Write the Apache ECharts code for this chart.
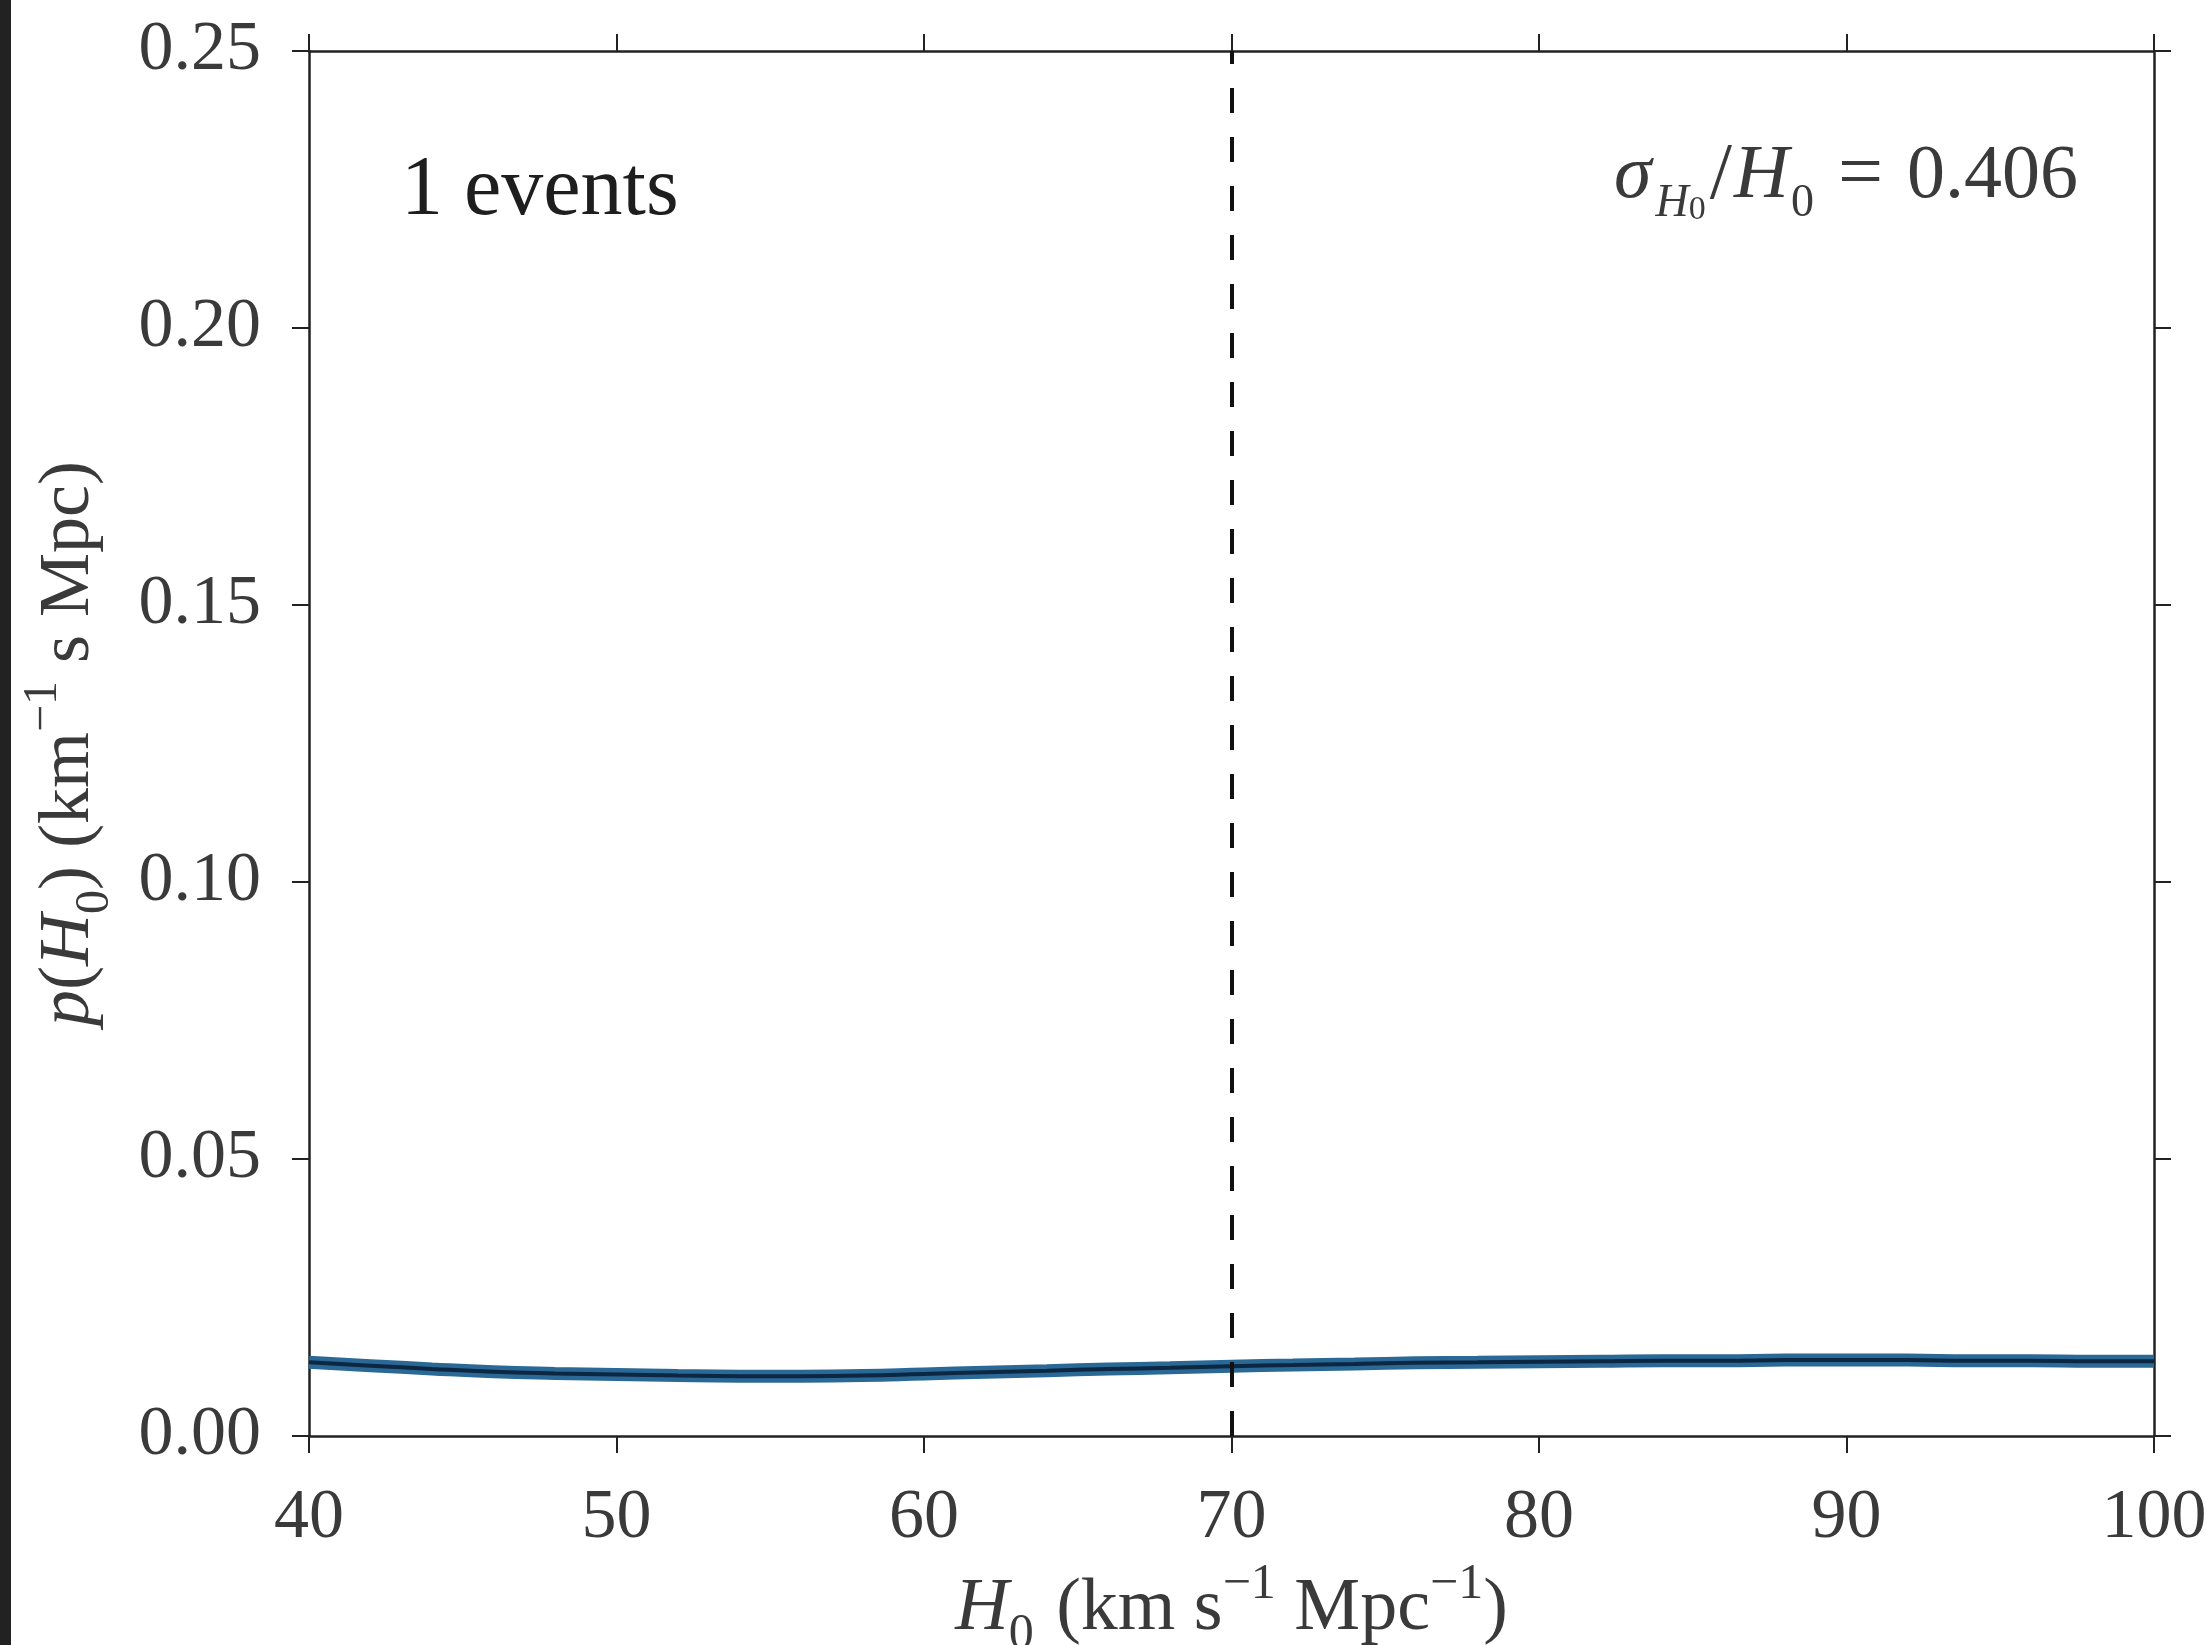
<!DOCTYPE html>
<html>
<head>
<meta charset="utf-8">
<script src="https://cdn.jsdelivr.net/npm/echarts@6/dist/echarts.min.js"></script>
<style>
html,body{margin:0;padding:0;background:#fff;}
#chart{position:absolute;left:0;top:0;width:2206px;height:1645px;}
#edge{position:absolute;left:0;top:0;width:11px;height:1645px;background:#222;z-index:5;}
</style>
</head>
<body>
<div id="chart"></div>
<div id="edge"></div>
<script>
// H0 grid (km/s/Mpc)
const h0Values = [40,42,44,46,48,50,52,54,56,58,60,62,64,66,68,70,72,74,76,78,80,82,84,86,88,90,92,94,96,98,100];
// posterior p(H0)
const posterior = [0.0133,0.0127,0.0121,0.0116,0.0113,0.0111,0.0109,0.0108,0.0108,0.0109,0.0112,0.0115,0.0118,0.0121,0.0123,0.0126,0.0128,0.0130,0.0132,0.0133,0.0134,0.0135,0.0136,0.0136,0.0137,0.0137,0.0137,0.0136,0.0136,0.0135,0.0135];
const trueH0 = 70;
const xTicks = [40,50,60,70,80,90,100];
const yTicks = [0.00,0.05,0.10,0.15,0.20,0.25];
const eventsLabel = '1 events';
const sigmaValue = '0.406';

const points = h0Values.map((h, i) => [h, posterior[i]]);
const serif = '"Liberation Serif","DejaVu Serif",serif';
const lab = '#3a3a3a';
const axisCol = '#222';

const chart = echarts.init(document.getElementById('chart'), null, {renderer: 'canvas'});

const xBase = {
  type: 'value', min: xTicks[0], max: xTicks[xTicks.length - 1], interval: 10,
  splitLine: {show: false},
  axisLine: {show: true, onZero: false, lineStyle: {color: axisCol, width: 2.5}},
  axisTick: {show: true, inside: false, length: 17, lineStyle: {color: axisCol, width: 2}}
};
const yBase = {
  type: 'value', min: yTicks[0], max: yTicks[yTicks.length - 1], interval: 0.05,
  splitLine: {show: false},
  axisLine: {show: true, onZero: false, lineStyle: {color: axisCol, width: 2.5}},
  axisTick: {show: true, inside: false, length: 17, lineStyle: {color: axisCol, width: 2}}
};

chart.setOption({
  backgroundColor: '#ffffff',
  animation: false,
  grid: {left: 309, right: 52, top: 51, bottom: 209, containLabel: false, outerBoundsMode: 'none'},
  xAxis: [
    Object.assign({}, xBase, {
      position: 'bottom',
      axisLabel: {show: true, margin: 48, fontFamily: serif, fontSize: 70, color: lab},
      name: '{hi|H}{sub|0}{n| (km s}{sup|−1}{n| Mpc}{sup|−1}{n|)}',
      nameLocation: 'middle', nameGap: 124,
      nameTextStyle: {
        fontFamily: serif, fontSize: 74, color: lab,
        rich: {
          hi: {fontFamily: serif, fontSize: 74, fontStyle: 'italic', color: lab, lineHeight: 100},
          n: {fontFamily: serif, fontSize: 74, color: lab, lineHeight: 100},
          sub: {fontFamily: serif, fontSize: 50, color: lab, lineHeight: 46, verticalAlign: 'bottom', padding: [0, 4, 0, 0]},
          sup: {fontFamily: serif, fontSize: 50, color: lab, lineHeight: 66, verticalAlign: 'top'}
        }
      }
    }),
    Object.assign({}, xBase, {position: 'top', axisLabel: {show: false}})
  ],
  yAxis: [
    Object.assign({}, yBase, {
      position: 'left',
      axisLabel: {show: true, margin: 48, fontFamily: serif, fontSize: 70, color: lab,
        formatter: v => v.toFixed(2)},
      name: '{it|p}{n|(}{it|H}{sub|0}{n|) (km}{sup|−1}{n| s Mpc)}',
      nameLocation: 'middle', nameGap: 190, nameRotate: 90,
      nameTextStyle: {
        fontFamily: serif, fontSize: 72, color: lab,
        rich: {
          it: {fontFamily: serif, fontSize: 72, fontStyle: 'italic', color: lab, lineHeight: 100},
          n: {fontFamily: serif, fontSize: 72, color: lab, lineHeight: 100},
          sub: {fontFamily: serif, fontSize: 48, color: lab, lineHeight: 46, verticalAlign: 'bottom'},
          sup: {fontFamily: serif, fontSize: 48, color: lab, lineHeight: 66, verticalAlign: 'top'}
        }
      }
    }),
    Object.assign({}, yBase, {position: 'right', axisLabel: {show: false}})
  ],
  graphic: [
    {
      type: 'text', left: 401, top: 150, z: 10,
      style: {text: eventsLabel, fontFamily: serif, fontSize: 84, fill: '#1e1e1e'}
    },
    {
      type: 'text', right: 128, top: 137, z: 10,
      style: {
        text: '{s|σ}{sb|H}{ssb|0}{sl|/}{s|H}{sb0|0}{eq|=}{n|' + sigmaValue + '}',
        fontFamily: serif, fontSize: 76, fill: lab,
        rich: {
          s: {fontFamily: serif, fontSize: 76, fontStyle: 'italic', fill: lab, lineHeight: 100},
          n: {fontFamily: serif, fontSize: 76, fill: lab, lineHeight: 100},
          sl: {fontFamily: serif, fontSize: 80, fill: lab, lineHeight: 100, padding: [0, 2, 0, 4]},
          eq: {fontFamily: serif, fontSize: 80, fill: lab, lineHeight: 100, padding: [0, 24, 0, 24]},
          sb: {fontFamily: serif, fontSize: 46, fontStyle: 'italic', fill: lab, lineHeight: 50, verticalAlign: 'bottom', padding: [0, 0, 0, 4]},
          ssb: {fontFamily: serif, fontSize: 34, fill: lab, lineHeight: 22, verticalAlign: 'bottom'},
          sb0: {fontFamily: serif, fontSize: 46, fill: lab, lineHeight: 50, verticalAlign: 'bottom', padding: [0, 0, 0, 2]}
        }
      }
    }
  ],
  series: [
    {
      type: 'line', xAxisIndex: 0, yAxisIndex: 0, data: points, smooth: true, symbol: 'none',
      lineStyle: {color: '#2a6896', width: 13}, z: 3,
      markLine: {
        silent: true, symbol: ['none', 'none'], label: {show: false},
        lineStyle: {color: '#111', width: 4, type: [25, 24]},
        data: [{xAxis: trueH0}]
      }
    },
    {
      type: 'line', xAxisIndex: 0, yAxisIndex: 0, data: points, smooth: true, symbol: 'none',
      lineStyle: {color: '#0b2741', width: 4}, z: 4
    }
  ]
});
</script>
</body>
</html>
